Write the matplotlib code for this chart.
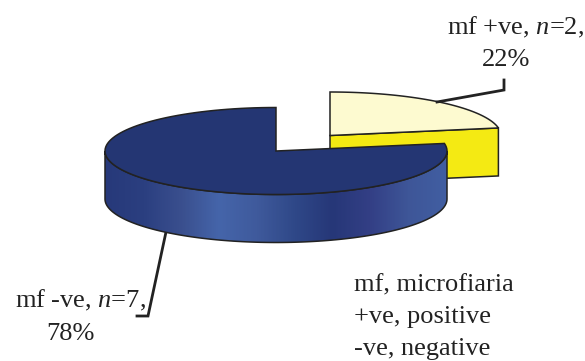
#!/usr/bin/env python
'''
3D looking pie of mf positive / negative counts, exploded slice at upper right.
'''
import numpy as np
import matplotlib
matplotlib.use('Agg')
import matplotlib.pyplot as plt
from matplotlib.colors import LinearSegmentedColormap
from matplotlib.patches import PathPatch, Polygon
from matplotlib.path import Path

plt.rcParams['font.family'] = ['Liberation Serif', 'DejaVu Serif']
plt.rcParams['mathtext.fontset'] = 'custom'
plt.rcParams['mathtext.rm'] = 'Liberation Serif'
plt.rcParams['mathtext.it'] = 'Liberation Serif:italic'

categories = ['mf +ve', 'mf -ve']
counts = [2, 7]
percents = [22, 78]
notes = ['mf, microfiaria', '+ve, positive', '-ve, negative']

# sweep starts at 12 o'clock and goes clockwise, like the original
sweep = [c / float(sum(counts)) * 360.0 for c in counts]
START = 90.0
SPLIT = START - sweep[0]

RX, RY = 171.0, 43.5
DEPTH = 48.0
LINE = '#222222'
LW = 1.1
side_stops = ['#27397a', '#2b3f80', '#3a4f8e', '#4565aa', '#3f5a9c', '#2f4888',
              '#263778', '#333f85', '#3e5698', '#415ea2']


def arc(cx, cy, t0, t1, n=120):
    t = np.radians(np.linspace(t0, t1, n))
    return np.column_stack([cx + RX * np.cos(t), cy - RY * np.sin(t)])


fig = plt.figure(figsize=(5.85, 3.61), dpi=100)
ax = fig.add_axes([0, 0, 1, 1])
ax.set_xlim(0, 585)
ax.set_ylim(361, 0)
ax.axis('off')

# slice pulled out to the upper right
cx, cy = 330.0, 135.5
top_arc = arc(cx, cy, SPLIT, START)
edge = top_arc[0]
ax.add_patch(Polygon([[cx, cy], edge, edge + [0, DEPTH], [cx, cy + DEPTH]], closed=True,
                     fc='#f4ea13', ec=LINE, lw=LW, joinstyle='miter', zorder=2))
ax.add_patch(Polygon(np.vstack([[[cx, cy]], top_arc]), closed=True,
                     fc='#fdfad0', ec=LINE, lw=LW, joinstyle='miter', zorder=3))

# big slice, side wall first then the top
cx, cy = 276.0, 151.0
upper = arc(cx, cy, 180, 360)
lower = arc(cx, cy + DEPTH, 360, 180)
wall = np.vstack([upper, lower])
wall_path = Path(np.vstack([wall, wall[:1]]), closed=True)
cmap = LinearSegmentedColormap.from_list('wall', side_stops)
im = ax.imshow(np.linspace(0, 1, 340).reshape(1, -1), cmap=cmap, aspect='auto',
               extent=[cx - RX, cx + RX, cy + DEPTH + RY, cy], zorder=4)
ax.add_patch(PathPatch(wall_path, fc='none', ec=LINE, lw=LW, zorder=5))
im.set_clip_path(PathPatch(wall_path, transform=ax.transData))
ax.set_xlim(0, 585)
ax.set_ylim(361, 0)

top_arc = arc(cx, cy, START, START + sweep[1])
ax.add_patch(Polygon(np.vstack([[[cx, cy]], top_arc]), closed=True,
                     fc='#243673', ec=LINE, lw=LW, joinstyle='miter', zorder=6))

# leader lines
ax.plot([437, 504, 504], [102, 90, 80], color=LINE, lw=2.0, zorder=7,
        solid_joinstyle='miter')
ax.plot([166, 148, 137], [232, 316, 316], color=LINE, lw=2.0, zorder=3,
        solid_joinstyle='miter')

# labels
FS = 19
TXT = '#222222'
ax.text(515, 27, '%s, $\\mathit{n}$=%d,' % (categories[0], counts[0]), fontsize=FS,
        color=TXT, ha='center', va='center')
ax.text(506, 60, '%d%%' % percents[0], fontsize=FS, color=TXT, ha='center', va='center')
ax.text(80, 300, '%s, $\\mathit{n}$=%d,' % (categories[1], counts[1]), fontsize=FS,
        color=TXT, ha='center', va='center')
ax.text(70, 334, '%d%%' % percents[1], fontsize=FS, color=TXT, ha='center', va='center')
for y, note in zip([285, 317, 349], notes):
    ax.text(354, y, note, fontsize=FS, color=TXT, ha='left', va='center')

fig.savefig('out.png', dpi=100)
